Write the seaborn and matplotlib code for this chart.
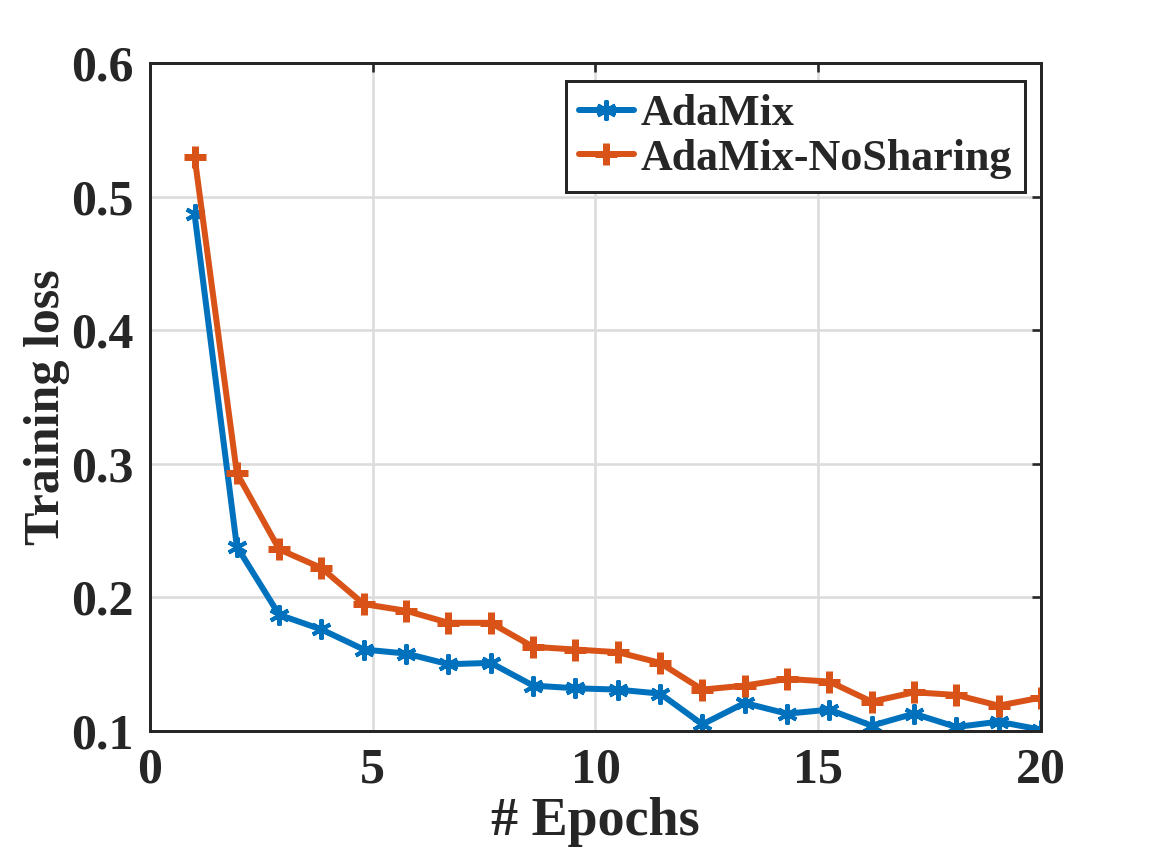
import seaborn as sns
import pandas as pd
from matplotlib import pyplot as plt

epochs = [1.00, 1.95, 2.90, 3.85, 4.80, 5.75, 6.70, 7.65, 8.60, 9.55, 10.50,
          11.45, 12.40, 13.35, 14.30, 15.25, 16.20, 17.15, 18.10, 19.05, 20.00]
adamix = [0.487, 0.238, 0.187, 0.176, 0.161, 0.158, 0.150, 0.151, 0.134, 0.132, 0.131,
          0.128, 0.105, 0.121, 0.113, 0.116, 0.104, 0.113, 0.103, 0.107, 0.101]
nosharing = [0.530, 0.293, 0.236, 0.222, 0.195, 0.190, 0.181, 0.181, 0.163, 0.161, 0.159,
             0.151, 0.131, 0.134, 0.139, 0.137, 0.122, 0.129, 0.127, 0.119, 0.125]
series_names = ['AdaMix', 'AdaMix-NoSharing']
x_ticks = [0, 5, 10, 15, 20]
y_ticks = [0.1, 0.2, 0.3, 0.4, 0.5, 0.6]
y_tick_labels = ['0.1', '0.2', '0.3', '0.4', '0.5', '0.6']

sns.set_style('white')
plt.rcParams['font.family'] = ['Liberation Serif', 'DejaVu Serif']
plt.rcParams['font.weight'] = 'bold'
plt.rcParams['axes.labelweight'] = 'bold'
plt.rcParams['xtick.direction'] = 'in'
plt.rcParams['ytick.direction'] = 'in'
plt.rcParams['xtick.major.size'] = 4.5
plt.rcParams['ytick.major.size'] = 4.5
plt.rcParams['xtick.major.width'] = 1.3
plt.rcParams['ytick.major.width'] = 1.3
plt.rcParams['xtick.top'] = True
plt.rcParams['ytick.right'] = True

colors = ['#0072BD', '#D95319']
markers = [(6, 2, 0), '+']
msizes = [10, 11]
mews = [2.0, 3.5]

df = pd.DataFrame({'epoch': epochs, series_names[0]: adamix, series_names[1]: nosharing})

fig, ax = plt.subplots(figsize=(8, 6), dpi=144)
for i, name in enumerate(series_names):
    sns.lineplot(data=df, x='epoch', y=name, ax=ax, color=colors[i], linewidth=3,
                 marker=markers[i], markersize=msizes[i], markeredgewidth=mews[i],
                 markeredgecolor=colors[i], label=name)

ax.set_xlim(0, 20)
ax.set_ylim(0.1, 0.6)
ax.set_xticks(x_ticks, [str(t) for t in x_ticks])
ax.set_yticks(y_ticks, y_tick_labels)
ax.tick_params(axis='both', labelsize=25, colors='#262626', pad=8)
ax.grid(True, color='#dcdcdc', linewidth=1.3)
ax.set_axisbelow(True)
for s in ax.spines.values():
    s.set_color('#262626')
    s.set_linewidth(1.5)

ax.set_xlabel('# Epochs', fontsize=27, labelpad=2)
ax.set_ylabel('Training loss', fontsize=25)
ax.yaxis.set_label_coords(-0.09, 0.485)

leg = ax.legend(loc='upper right', bbox_to_anchor=(0.982, 0.973), fontsize=22,
                frameon=True, fancybox=False, framealpha=1, edgecolor='#262626',
                handlelength=1.25, handletextpad=0.15, labelspacing=0.1,
                borderpad=0.3, borderaxespad=0)
leg.get_frame().set_linewidth(1.5)
for t in leg.get_texts():
    t.set_fontweight('bold')

fig.subplots_adjust(left=0.1302, right=0.9036, top=0.9271, bottom=0.1539)
fig.savefig('out.png', dpi=144)
